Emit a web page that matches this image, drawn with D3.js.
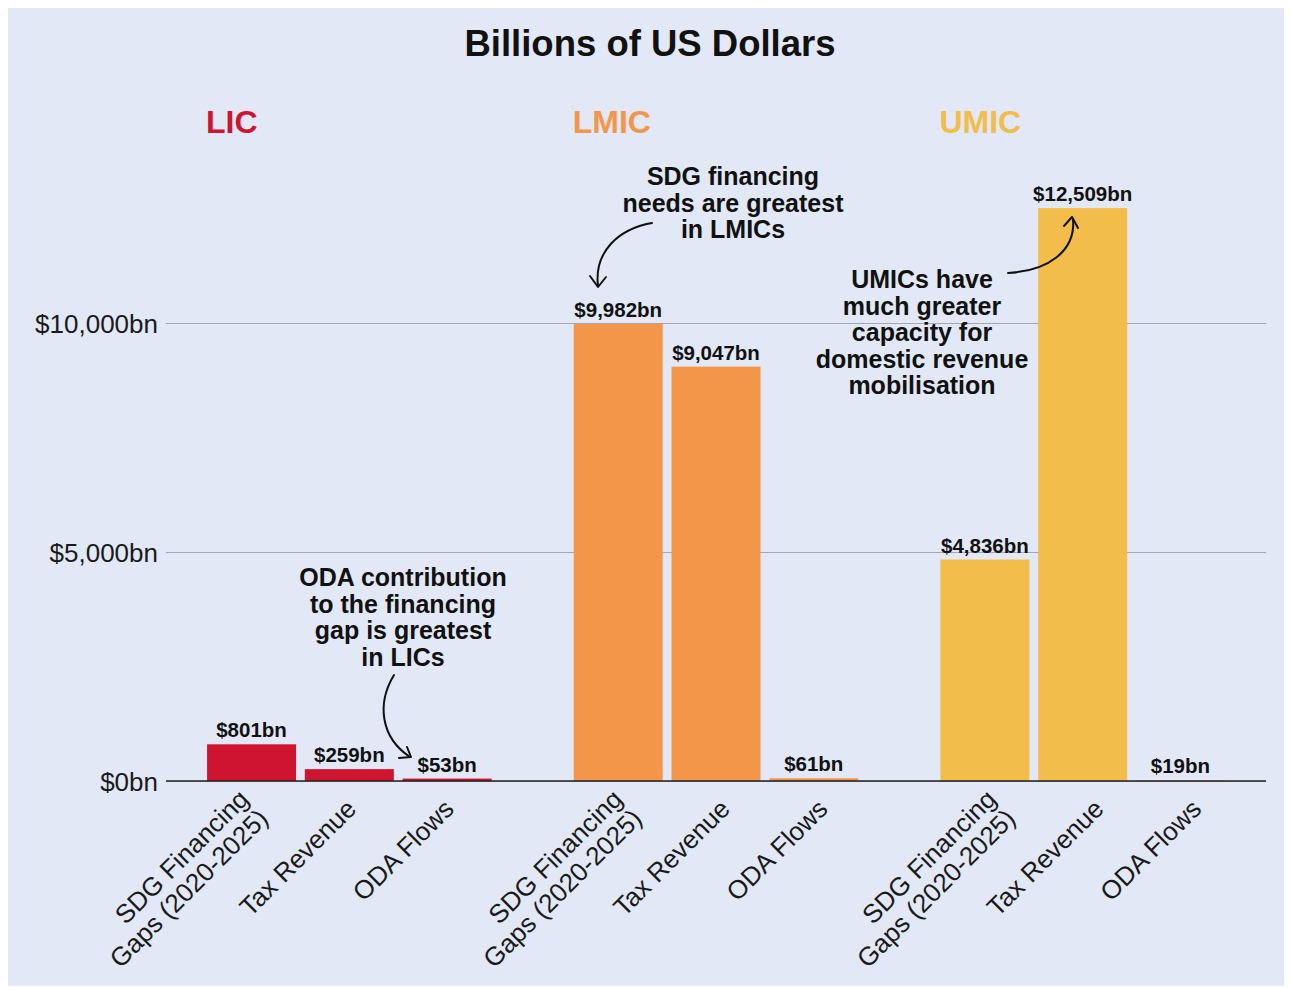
<!DOCTYPE html>
<html>
<head>
<meta charset="utf-8">
<script src="https://cdn.jsdelivr.net/npm/d3@7"></script>
<style>
  html, body { margin: 0; padding: 0; background: #ffffff; }
  svg { display: block; font-family: "Liberation Sans", Arial, Helvetica, sans-serif; }
</style>
</head>
<body>
<svg id="chart" width="1291" height="988"></svg>
<script>
// ---------- data ----------
const groups = ["LIC", "LMIC", "UMIC"];
const categories = ["SDG Financing Gaps (2020-2025)", "Tax Revenue", "ODA Flows"];
const categoryLines = [["SDG Financing", "Gaps (2020-2025)"], ["Tax Revenue"], ["ODA Flows"]];
const licValues = [801, 259, 53];
const lmicValues = [9982, 9047, 61];
const umicValues = [4836, 12509, 19];
const yTicks = [0, 5000, 10000];
const yTickLabels = ["$0bn", "$5,000bn", "$10,000bn"];
const groupColors = ["#cf1430", "#f4964a", "#f2bd4b"];
const title = "Billions of US Dollars";
const annotationLMIC = ["SDG financing", "needs are greatest", "in LMICs"];
const annotationUMIC = ["UMICs have", "much greater", "capacity for", "domestic revenue", "mobilisation"];
const annotationLIC = ["ODA contribution", "to the financing", "gap is greatest", "in LICs"];

const seriesValues = [licValues, lmicValues, umicValues];
const rows = [];
groups.forEach((g, gi) => {
  categories.forEach((c, ci) => rows.push({ group: g, gi, cat: c, ci, value: seriesValues[gi][ci] }));
});

// ---------- layout ----------
const svg = d3.select("#chart");
const plot = { left: 166, right: 1266, top: 323, bottom: 781 };

svg.append("rect").attr("x", 8).attr("y", 8).attr("width", 1276).attr("height", 978).attr("fill", "#e2e8f5");

const x0 = d3.scaleBand().domain(groups).range([plot.left, plot.right]).paddingInner(0).paddingOuter(0);
const x1 = d3.scaleBand().domain(categories).range([0, x0.bandwidth()]).paddingInner(0.09).paddingOuter(0.42);
const y = d3.scaleLinear().domain([0, 10000]).range([plot.bottom, plot.top]);

// gridlines + tick labels
const yAxis = d3.axisLeft(y).tickValues(yTicks).tickSize(-(plot.right - plot.left)).tickPadding(8)
  .tickFormat((d, i) => yTickLabels[i]);
const gy = svg.append("g").attr("transform", `translate(${plot.left},0)`).call(yAxis);
gy.select(".domain").remove();
gy.selectAll(".tick line").attr("stroke", "#a3a7b0").attr("stroke-width", 1.2);
gy.selectAll(".tick text").attr("font-size", 26).attr("fill", "#1a1a1a").attr("dy", "0.35em")
  .attr("x", -8);

// bars
svg.append("g").selectAll("rect").data(rows).join("rect")
  .attr("x", d => x0(d.group) + x1(d.cat))
  .attr("width", x1.bandwidth())
  .attr("y", d => y(d.value))
  .attr("height", d => y(0) - y(d.value))
  .attr("fill", d => groupColors[d.gi]);

// zero line
svg.append("line").attr("x1", plot.left).attr("x2", plot.right)
  .attr("y1", y(0)).attr("y2", y(0)).attr("stroke", "#222").attr("stroke-width", 1.6);

// value labels
const fmt = d3.format(",");
svg.append("g").selectAll("text").data(rows).join("text")
  .attr("x", d => x0(d.group) + x1(d.cat) + x1.bandwidth() / 2)
  .attr("y", d => y(d.value) - 7)
  .attr("text-anchor", "middle")
  .attr("font-size", 20.5).attr("font-weight", "bold").attr("fill", "#111")
  .text(d => "$" + fmt(d.value) + "bn");

// x labels (rotated)
const xl = svg.append("g");
rows.forEach(d => {
  const cx = x0(d.group) + x1(d.cat) + x1.bandwidth() / 2;
  const lines = categoryLines[d.ci];
  const t = xl.append("text")
    .attr("transform", `translate(${cx + 2 + d.gi * 7},${y(0) + 23}) rotate(-45)`)
    .attr("text-anchor", "end").attr("font-size", 26).attr("fill", "#1a1a1a");
  lines.forEach((ln, i) => {
    t.append("tspan").attr("x", 0).attr("y", ((i - (lines.length - 1) / 2) * 1.05) + "em")
      .attr("dy", "0.35em").text(ln);
  });
});

// title
svg.append("text").attr("x", 650).attr("y", 56).attr("text-anchor", "middle")
  .attr("font-size", 36.5).attr("font-weight", "bold").attr("fill", "#111").text(title);

// group labels
svg.append("g").selectAll("text").data(groups).join("text")
  .attr("x", d => x0(d) + x1(categories[0]) - 1)
  .attr("y", 133)
  .attr("font-size", 32).attr("font-weight", "bold")
  .attr("fill", (d, i) => groupColors[i])
  .text(d => d);

// annotations
function annot(lines, cx, firstBaseline) {
  const t = svg.append("text").attr("text-anchor", "middle").attr("font-size", 25)
    .attr("font-weight", "bold").attr("fill", "#111");
  lines.forEach((ln, i) => t.append("tspan").attr("x", cx).attr("y", firstBaseline + i * 26.5).text(ln));
}
annot(annotationLMIC, 733, 185);
annot(annotationUMIC, 922, 288);
annot(annotationLIC, 403, 586);

// arrows
const arrowG = svg.append("g").attr("fill", "none").attr("stroke", "#111").attr("stroke-width", 2)
  .attr("stroke-linecap", "round").attr("stroke-linejoin", "round");
arrowG.append("path").attr("d", "M652,223 C618,229 594,252 598,286");
arrowG.append("path").attr("d", "M590,276 L598,287 L606,277");
arrowG.append("path").attr("d", "M1008,273 C1048,271 1076,251 1073,219");
arrowG.append("path").attr("d", "M1064,226 L1072,217 L1078,228");
arrowG.append("path").attr("d", "M394,675 C377,703 380,737 410,757");
arrowG.append("path").attr("d", "M399,758 L411,757 L407,747");
</script>
</body>
</html>
